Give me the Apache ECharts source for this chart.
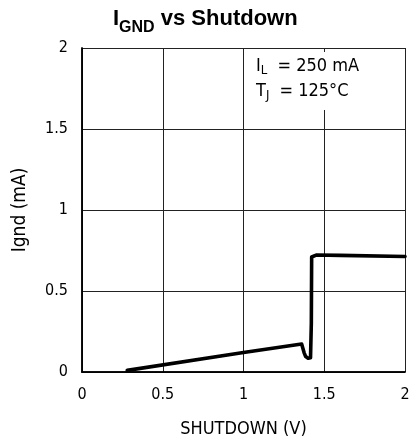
<!DOCTYPE html>
<html>
<head>
<meta charset="utf-8">
<script src="https://cdn.jsdelivr.net/npm/echarts@6/dist/echarts.min.js"></script>
<style>
html,body{margin:0;padding:0;background:#fff;overflow:hidden;}
#chart{width:410px;height:445px;}
</style>
</head>
<body>
<div id="chart"></div>
<script>
// Data
const shutdownV = [0.28, 1.0, 1.36, 1.37, 1.375, 1.385, 1.40, 1.415, 1.42, 1.422, 1.43, 1.45, 1.6, 2.0];
const ignd_mA   = [0.01, 0.12, 0.173, 0.165, 0.12, 0.095, 0.085, 0.088, 0.3, 0.71, 0.722, 0.722, 0.72, 0.713];
const xTicks = [0, 0.5, 1, 1.5, 2];
const yTicks = [0, 0.5, 1, 1.5, 2];
const titleMain = 'I';
const titleSub = 'GND';
const titleRest = ' vs Shutdown';
const xName = 'SHUTDOWN (V)';
const yName = 'Ignd (mA)';
const condLoad = ['I', 'L', ' = 250 mA'];
const condTemp = ['T', 'J', ' = 125°C'];

const chart = echarts.init(document.getElementById('chart'), null, {renderer: 'canvas'});
const axisFont = 'DejaVu Sans Condensed';
const frameAxis = {show: true, lineStyle: {color: '#000', width: 1.5}};
const option = {
  animation: false,
  backgroundColor: '#fff',
  title: {
    text: '{m|' + titleMain + '}{s|' + titleSub + '}{m|' + titleRest + '}',
    left: 108,
    top: -3,
    textStyle: {
      rich: {
        m: {fontFamily: 'Liberation Sans', fontWeight: 'bold', fontSize: 22, color: '#000', verticalAlign: 'bottom', lineHeight: 28},
        s: {fontFamily: 'Liberation Sans', fontWeight: 'bold', fontSize: 16, color: '#000', verticalAlign: 'bottom', padding: [0, 0, -6, 0], lineHeight: 28}
      }
    }
  },
  grid: {left: 82, right: 5, top: 48, bottom: 73, containLabel: false, outerBoundsMode: 'none'},
  xAxis: [{
    type: 'value', min: 0, max: 2, interval: 0.5,
    name: xName, nameLocation: 'middle', nameGap: 48,
    nameTextStyle: {fontFamily: axisFont, fontSize: 18, color: '#000'},
    axisLine: frameAxis,
    axisTick: {show: false},
    axisLabel: {fontFamily: axisFont, fontSize: 16, color: '#000', margin: 15,
      formatter: v => xTicks.includes(v) ? String(v) : ''},
    splitLine: {show: true, lineStyle: {color: '#222', width: 1}}
  }, {
    type: 'value', position: 'top', min: 0, max: 2, z: 20,
    axisLine: frameAxis, axisTick: {show: false}, axisLabel: {show: false}, splitLine: {show: false}
  }],
  yAxis: [{
    type: 'value', min: 0, max: 2, interval: 0.5,
    name: yName, nameLocation: 'middle', nameGap: 52, nameRotate: 90,
    nameTextStyle: {fontFamily: axisFont, fontSize: 19, color: '#000'},
    axisLine: frameAxis,
    axisTick: {show: false},
    axisLabel: {fontFamily: axisFont, fontSize: 16, color: '#000', margin: 14,
      formatter: v => yTicks.includes(v) ? String(v) : ''},
    splitLine: {show: true, lineStyle: {color: '#222', width: 1}}
  }, {
    type: 'value', position: 'right', min: 0, max: 2, z: 20,
    axisLine: frameAxis, axisTick: {show: false}, axisLabel: {show: false}, splitLine: {show: false}
  }],
  series: [{
    type: 'line',
    data: shutdownV.map((x, i) => [x, ignd_mA[i]]),
    showSymbol: false,
    smooth: false,
    lineStyle: {color: '#000', width: 3.6, join: 'round', cap: 'round'},
    z: 3
  }],
  graphic: [
    {type: 'rect', shape: {x: 249, y: 52, width: 154, height: 58}, style: {fill: '#fff'}, z: 10},
    {type: 'text', left: 256, top: 57, z: 11, style: {
      text: '{m|' + condLoad[0] + '}{s|' + condLoad[1] + '}{m|' + condLoad[2] + '}',
      rich: {
        m: {fontFamily: axisFont, fontSize: 18, fill: '#000', lineHeight: 22},
        s: {fontFamily: axisFont, fontSize: 13, fill: '#000', padding: [0, 5, -9, 0], lineHeight: 22}
      }
    }},
    {type: 'text', left: 256, top: 82, z: 11, style: {
      text: '{m|' + condTemp[0] + '}{s|' + condTemp[1] + '}{m|' + condTemp[2] + '}',
      rich: {
        m: {fontFamily: axisFont, fontSize: 18, fill: '#000', lineHeight: 22},
        s: {fontFamily: axisFont, fontSize: 13, fill: '#000', padding: [0, 5, -9, 0], lineHeight: 22}
      }
    }}
  ]
};
chart.setOption(option);
</script>
</body>
</html>
